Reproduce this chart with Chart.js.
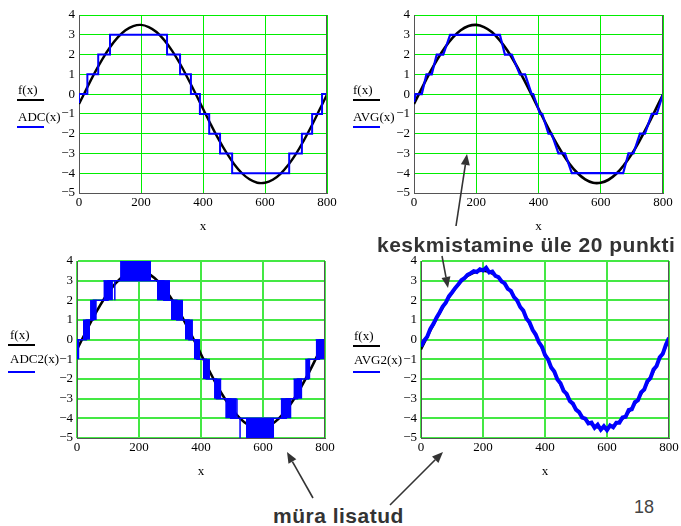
<!DOCTYPE html>
<html>
<head>
<meta charset="utf-8">
<script src="https://cdn.jsdelivr.net/npm/chart.js@4.4.1/dist/chart.umd.min.js"></script>
<style>
  body { margin: 0; background: #fff; }
  #leht { position: relative; width: 681px; height: 526px; overflow: hidden; background: #fff; }
  .paneel { position: absolute; }
  .silt { position: absolute; font: 13px "Liberation Serif", serif; line-height: 13px; color: #000; white-space: nowrap; }
  .joon { position: absolute; height: 2px; width: 27px; }
  .markus { position: absolute; font: bold 21px "Liberation Sans", Arial, sans-serif; line-height: 21px; letter-spacing: 0.5px; color: #333; white-space: nowrap; }
  #nool { position: absolute; left: 0; top: 0; pointer-events: none; }
</style>
</head>
<body>
<div id="leht">
  <canvas id="nool" width="681" height="526"></canvas>
</div>
<script>
// telgede jaotised
const xTicks = [0, 200, 400, 600, 800];
const yTicks = [-5, -4, -3, -2, -1, 0, 1, 2, 3, 4];

// f(x) - siinus, loetud pildilt
const fX = [0, 25, 50, 75, 100, 125, 150, 175, 200, 225, 250, 275, 300, 325, 350, 375, 400,
            425, 450, 475, 500, 525, 550, 575, 600, 625, 650, 675, 700, 725, 750, 775, 800];
const fY = [-0.50, 0.29, 1.06, 1.76, 2.37, 2.87, 3.23, 3.44, 3.50, 3.39, 3.14, 2.73, 2.20, 1.56, 0.83, 0.06, -0.74,
            -1.53, -2.28, -2.95, -3.53, -3.99, -4.31, -4.48, -4.48, -4.33, -4.03, -3.58, -3.02, -2.35, -1.61, -0.82, -0.02];

// ADC(x) - astmed (tase kehtib kuni jargmise punktini)
const adcX = [0, 0, 27, 62, 100, 284, 326, 361, 390, 420, 455, 494, 678, 719, 752, 784, 800];
const adcY = [-0.45, 0, 1, 2, 3, 2, 1, 0, -1, -2, -3, -4, -3, -2, -1, 0, 0];

// AVG(x) - keskmistatud ADC
const avgX = [0, 5, 25, 40, 57, 73, 94, 116, 276, 292, 314, 340, 357, 378, 383, 405, 412, 432, 442,
              464, 485, 507, 672, 689, 705, 726, 742, 764, 780, 800];
const avgY = [-0.4, 0, 0, 1, 1, 2, 2, 3, 3, 2, 2, 1, 1, 0, 0, -1, -1, -2, -2,
              -3, -3, -4, -4, -3, -3, -2, -2, -1, -1, 0];

// ADC2(x) - müraga, vilkuvad plokid (alumine tase .. alumine tase + 1)
const adc2Algus = [0, 19, 42, 85, 139, 258, 303, 348, 377, 406, 442, 478, 545, 657, 698, 736, 770];
const adc2Lopp  = [8, 42, 64, 116, 239, 300, 342, 374, 397, 429, 466, 515, 636, 692, 727, 753, 797];
const adc2Alum  = [-1, 0, 1, 2, 3, 2, 1, 0, -1, -2, -3, -4, -5, -4, -3, -2, -1];
// tase plokkide vahel
const adc2X = [0, 30, 53, 100, 280, 322, 361, 387, 417, 450, 496, 675, 711, 746, 782, 800];
const adc2Y = [0, 1, 2, 3, 2, 1, 0, -1, -2, -3, -4, -3, -2, -1, 0, 0];
// üksikud piigid
const piikX = [122, 516, 526];
const piikAlt = [2, -4, -5];
const piikYlal = [3, -3, -4];

// AVG2(x) - müraga signaal pärast keskmistamist
const avg2X = [0, 10, 20, 30, 40, 50, 60, 70, 80, 90, 100, 110, 120, 130, 140, 150, 160, 170, 180, 190,
               200, 210, 220, 230, 240, 250, 260, 270, 280, 290, 300, 310, 320, 330, 340, 350, 360, 370, 380, 390,
               400, 410, 420, 430, 440, 450, 460, 470, 480, 490, 500, 510, 520, 530, 540, 550, 560, 570, 580, 590,
               600, 610, 620, 630, 640, 650, 660, 670, 680, 690, 700, 710, 720, 730, 740, 750, 760, 770, 780, 790, 800];
const avg2Y = [-0.35, -0.05, 0.15, 0.55, 0.80, 1.12, 1.38, 1.68, 1.88, 2.20, 2.40, 2.62, 2.80, 3.02, 3.12, 3.30, 3.38, 3.48, 3.44, 3.58,
               3.52, 3.66, 3.42, 3.46, 3.24, 3.18, 2.96, 2.86, 2.58, 2.48, 2.16, 2.00, 1.66, 1.48, 1.08, 0.88, 0.50, 0.26, -0.12, -0.35,
               -0.78, -1.00, -1.42, -1.62, -2.02, -2.22, -2.60, -2.76, -3.12, -3.25, -3.56, -3.68, -3.96, -4.02, -4.26, -4.22, -4.48, -4.32, -4.58, -4.40,
               -4.60, -4.36, -4.46, -4.22, -4.22, -3.96, -3.92, -3.58, -3.54, -3.18, -3.08, -2.68, -2.54, -2.12, -1.96, -1.52, -1.34, -0.90, -0.72, -0.26, 0.10];

const SININE = '#0000ff';
const MUST = '#000000';

Chart.defaults.font.family = '"Liberation Serif", "Times New Roman", serif';
Chart.defaults.font.size = 13;
Chart.defaults.color = '#000';

function punktid(xs, ys) {
    return xs.map((x, i) => ({ x: x, y: ys[i] }));
}

function miinus(v) {
    return v < 0 ? '\u2212' + (-v) : '' + v;
}

// parem serv
const raamPlugin = {
    id: 'raam',
    afterDatasetsDraw(chart) {
        const a = chart.chartArea;
        const c = chart.ctx;
        c.save();
        c.strokeStyle = '#555';
        c.lineWidth = 1;
        c.beginPath();
        c.moveTo(Math.round(a.right) - 0.5, a.top);
        c.lineTo(Math.round(a.right) - 0.5, a.bottom);
        c.stroke();
        c.restore();
    }
};

function valikud(ruuduVarv, ruuduLaius) {
    return {
        responsive: false,
        animation: false,
        events: [],
        layout: { padding: { top: 15, right: 12, left: 0, bottom: 0 } },
        plugins: { legend: { display: false }, tooltip: { enabled: false } },
        elements: { point: { radius: 0 } },
        scales: {
            x: {
                type: 'linear',
                min: 0, max: 800,
                afterBuildTicks: s => { s.ticks = xTicks.map(v => ({ value: v })); },
                afterFit: s => { s.height = 45; },
                grid: { color: ruuduVarv, lineWidth: ruuduLaius, drawTicks: false },
                border: { color: '#555', width: 1 },
                ticks: { padding: 2, maxRotation: 0, callback: v => miinus(v) },
                title: { display: true, text: 'x', padding: { top: 0, bottom: 4 } }
            },
            y: {
                type: 'linear',
                min: -5, max: 4,
                afterBuildTicks: s => { s.ticks = yTicks.map(v => ({ value: v })); },
                afterFit: s => { s.width = 60; },
                grid: { color: ruuduVarv, lineWidth: ruuduLaius, drawTicks: false },
                border: { color: '#555', width: 1 },
                ticks: { padding: 4, callback: v => miinus(v) }
            }
        }
    };
}

function joonis(vasak, ulal, parem, all, andmed, ruuduVarv, ruuduLaius) {
    const leht = document.getElementById('leht');
    const w = (parem - vasak) + 60 + 12;
    const h = (all - ulal) + 15 + 45;
    const cv = document.createElement('canvas');
    cv.className = 'paneel';
    cv.width = w;
    cv.height = h;
    cv.style.left = (vasak - 60) + 'px';
    cv.style.top = (ulal - 15) + 'px';
    leht.insertBefore(cv, document.getElementById('nool'));
    return new Chart(cv.getContext('2d'), {
        type: 'line',
        data: { datasets: andmed },
        options: valikud(ruuduVarv, ruuduLaius),
        plugins: [raamPlugin]
    });
}

function fKover(laius) {
    return { data: punktid(fX, fY), borderColor: MUST, borderWidth: laius, tension: 0.4, fill: false };
}

// 1. ADC
joonis(79, 15, 327, 193, [
    { data: punktid(adcX, adcY), borderColor: SININE, borderWidth: 2, stepped: true, fill: false },
    fKover(2.4)
], '#00ee00', 1);

// 2. AVG
joonis(414, 15, 663, 193, [
    { data: punktid(avgX, avgY), borderColor: SININE, borderWidth: 2.2, tension: 0, fill: false },
    fKover(2.6)
], '#00ee00', 1);

// 3. ADC2 - plokid, tasemejoon ja piigid
const adc2Andmed = [];
for (let i = 0; i < adc2Algus.length; i++) {
    adc2Andmed.push({
        data: [{ x: adc2Algus[i], y: adc2Alum[i] + 1 }, { x: adc2Lopp[i], y: adc2Alum[i] + 1 }],
        borderColor: SININE, backgroundColor: SININE, borderWidth: 1,
        fill: { value: adc2Alum[i] }
    });
}
for (let i = 0; i < piikX.length; i++) {
    adc2Andmed.push({
        data: [{ x: piikX[i], y: piikAlt[i] }, { x: piikX[i], y: piikYlal[i] }],
        borderColor: SININE, borderWidth: 1.5, fill: false
    });
}
adc2Andmed.push({ data: punktid(adc2X, adc2Y), borderColor: SININE, borderWidth: 1.5, stepped: true, fill: false });
adc2Andmed.push(fKover(2.6));
joonis(77, 261, 325, 438, adc2Andmed, '#44e844', 2);

// 4. AVG2
joonis(421, 261, 669, 438, [
    { data: punktid(avg2X, avg2Y), borderColor: SININE, borderWidth: 4, tension: 0, fill: false },
    fKover(2.4)
], '#44e844', 2);

// sildid telgede juures
function silt(tekst, vasak, alus) {
    const d = document.createElement('div');
    d.className = 'silt';
    d.textContent = tekst;
    d.style.left = vasak + 'px';
    d.style.top = (alus - 11) + 'px';
    document.getElementById('leht').appendChild(d);
}
function joon(varv, vasak, y) {
    const d = document.createElement('div');
    d.className = 'joon';
    d.style.background = varv;
    d.style.left = vasak + 'px';
    d.style.top = (y - 1) + 'px';
    document.getElementById('leht').appendChild(d);
}
silt('f(x)', 18, 94);   joon(MUST, 17, 100);   silt('ADC(x)', 18, 121);  joon(SININE, 17, 127);
silt('f(x)', 353, 94);  joon(MUST, 353, 100);  silt('AVG(x)', 353, 121); joon(SININE, 353, 127);
silt('f(x)', 10, 339);  joon(MUST, 8, 345);    silt('ADC2(x)', 10, 363); joon(SININE, 8, 372);
silt('f(x)', 354, 340); joon(MUST, 353, 346);  silt('AVG2(x)', 354, 364); joon(SININE, 353, 372);

// märkused
function markus(tekst, vasak, ulal, lisa) {
    const d = document.createElement('div');
    d.className = 'markus';
    d.textContent = tekst;
    d.style.left = vasak + 'px';
    d.style.top = ulal + 'px';
    if (lisa) Object.assign(d.style, lisa);
    document.getElementById('leht').appendChild(d);
}
markus('keskmistamine üle 20 punkti', 377, 234);
markus('müra lisatud', 273, 505);
markus('18', 634, 498, { fontWeight: 'normal', fontSize: '18px', lineHeight: '18px', letterSpacing: '0', color: '#444' });

// nooled
const nc = document.getElementById('nool');
nc.style.zIndex = 5;
const n = nc.getContext('2d');
function nool(x1, y1, x2, y2) {
    const nurk = Math.atan2(y2 - y1, x2 - x1);
    const pikk = 11, lai = 4.5;
    const bx = x2 - pikk * Math.cos(nurk), by = y2 - pikk * Math.sin(nurk);
    n.strokeStyle = '#333';
    n.fillStyle = '#333';
    n.lineWidth = 1.6;
    n.beginPath();
    n.moveTo(x1, y1);
    n.lineTo(bx, by);
    n.stroke();
    n.beginPath();
    n.moveTo(x2, y2);
    n.lineTo(bx + lai * Math.sin(nurk), by - lai * Math.cos(nurk));
    n.lineTo(bx - lai * Math.sin(nurk), by + lai * Math.cos(nurk));
    n.closePath();
    n.fill();
}
nool(456, 226, 467, 154);
nool(442, 256, 448, 288);
nool(313, 498, 287, 452);
nool(390, 505, 443, 452);
</script>
</body>
</html>
